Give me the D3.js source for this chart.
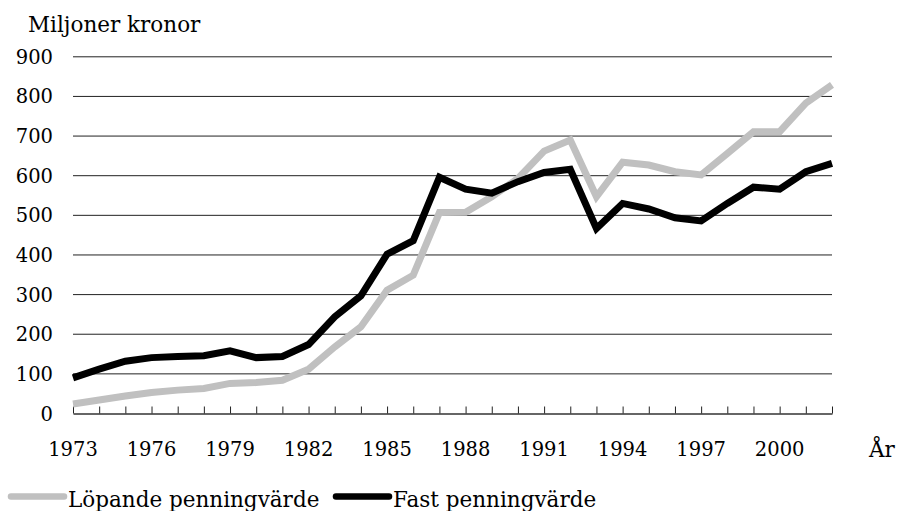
<!DOCTYPE html>
<html>
<head>
<meta charset="utf-8">
<script src="https://cdn.jsdelivr.net/npm/d3@7"></script>
<style>
  html, body { margin: 0; padding: 0; background: #fff; }
  svg text { font-family: "DejaVu Serif", serif; fill: #000; }
</style>
</head>
<body>
<svg id="chart" width="898" height="511"></svg>
<script>
const years = d3.range(1973, 2003);
const lopande = [24, 34, 44, 53, 59, 63, 76, 78, 84, 112, 168, 219, 311, 349, 507, 508, 547, 593, 662, 690, 547, 634, 627, 610, 602, 656, 711, 711, 783, 829];
const fast = [90, 112, 132, 141, 144, 146, 158, 141, 144, 174, 244, 297, 402, 436, 596, 566, 556, 585, 608, 616, 467, 530, 516, 494, 486, 530, 571, 566, 610, 631];
const yTicks = [0, 100, 200, 300, 400, 500, 600, 700, 800, 900];
const xTickLabels = [1973, 1976, 1979, 1982, 1985, 1988, 1991, 1994, 1997, 2000];
const seriesNames = ["Löpande penningvärde", "Fast penningvärde"];
const seriesColors = ["#c0c0c0", "#000000"];

const svg = d3.select("#chart");
const numSize = 19.5;
const wordSize = 21.5;

const x = d3.scaleLinear().domain([1973, 2002]).range([73, 832]);
const y = d3.scaleLinear().domain([0, 900]).range([413.5, 56.8]);

// gridlines
svg.append("g").selectAll("line").data(yTicks.filter(d => d > 0)).join("line")
  .attr("x1", 73).attr("x2", 832)
  .attr("y1", d => y(d)).attr("y2", d => y(d))
  .attr("stroke", "#222").attr("stroke-width", 1);

// y tick labels
svg.append("g").selectAll("text").data(yTicks).join("text")
  .attr("x", 53).attr("y", d => y(d) + 7)
  .attr("text-anchor", "end")
  .style("font-size", numSize + "px")
  .text(d => d);

// x axis
const xAxis = d3.axisBottom(x).tickValues(years).tickSizeInner(-7).tickSizeOuter(0).tickFormat("");
const gx = svg.append("g").attr("transform", "translate(0,413.5)").call(xAxis);
gx.select(".domain").attr("stroke", "#333").attr("stroke-width", 1.3);
gx.selectAll(".tick line").attr("stroke", "#222").attr("stroke-width", 1);

// x tick labels
svg.append("g").selectAll("text").data(xTickLabels).join("text")
  .attr("x", d => x(d)).attr("y", 456)
  .attr("text-anchor", "middle")
  .style("font-size", numSize + "px")
  .text(d => d);

// lines
const line = d3.line().x((d, i) => x(years[i])).y(d => y(d));
[lopande, fast].forEach((s, k) => {
  svg.append("path").datum(s)
    .attr("d", line)
    .attr("fill", "none")
    .attr("stroke", seriesColors[k])
    .attr("stroke-width", 7)
    .attr("stroke-linejoin", "miter")
    .attr("stroke-miterlimit", 3);
});

// titles
svg.append("text").attr("x", 28).attr("y", 32).style("font-size", wordSize + "px").text("Miljoner kronor");
svg.append("text").attr("x", 869).attr("y", 457).style("font-size", wordSize + "px").text("År");

// legend
const legendX = [11, 336];
seriesNames.forEach((name, k) => {
  svg.append("line")
    .attr("x1", legendX[k]).attr("x2", legendX[k] + 53)
    .attr("y1", 496.5).attr("y2", 496.5)
    .attr("stroke", seriesColors[k]).attr("stroke-width", 6.5).attr("stroke-linecap", "round");
  svg.append("text").attr("x", legendX[k] + 57).attr("y", 506.5)
    .style("font-size", wordSize + "px").text(name);
});
</script>
</body>
</html>
